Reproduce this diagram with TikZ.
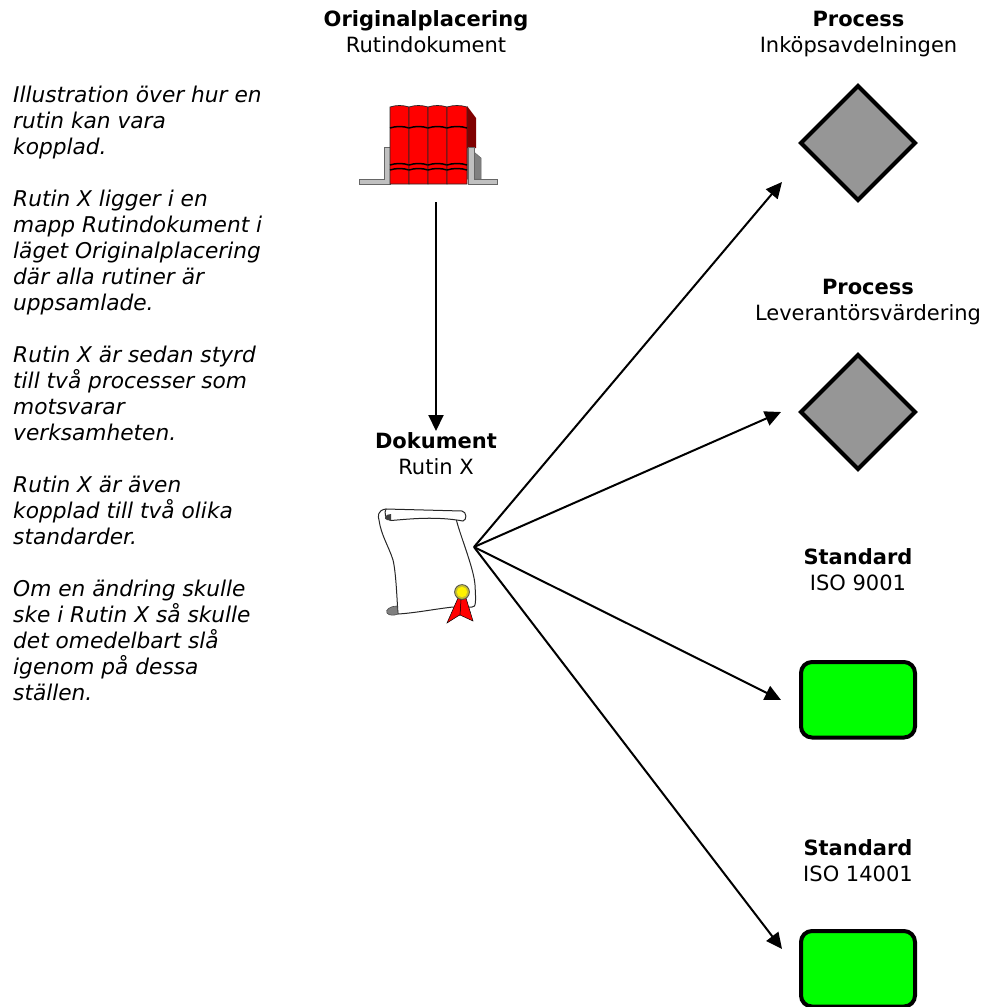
\documentclass[tikz,border=0pt]{standalone}
\usepackage{fontspec}
\setmainfont{DejaVu Sans}
\usetikzlibrary{arrows.meta}
\definecolor{bookred}{RGB}{255,0,0}
\definecolor{bookdark}{RGB}{128,0,0}
\definecolor{shelf}{RGB}{192,192,192}
\definecolor{shelfdark}{RGB}{128,128,128}
\definecolor{procgrey}{RGB}{150,150,150}
\definecolor{stdgreen}{RGB}{0,255,0}
\tikzset{
 x=1pt,y=-1pt,
 lbl/.style={align=center,font=\fontsize{21}{26}\selectfont,inner sep=0pt,anchor=north,execute at begin node=\rule{0pt}{20pt}},
 note/.style={align=left,font=\fontsize{21.7}{26}\selectfont\itshape,inner sep=0pt,anchor=north west,execute at begin node=\rule{0pt}{20pt}},
 proc/.style={draw=black,line width=4pt,fill=procgrey,miter limit=4},
 std/.style={draw=black,line width=4pt,fill=stdgreen,rounded corners=11pt},
 conn/.style={draw=black,line width=2pt,-{Triangle[length=16pt,width=15pt]}},
 spine/.style={draw=black!85,line width=.7pt,fill=bookred},
 band/.style={draw=black,line width=1.5pt},
 thin/.style={draw=black!85,line width=1pt},
}
\begin{document}
\begin{tikzpicture}
\useasboundingbox (0,0) rectangle (984,1007);
% notes
\node[note] (n1) at (13,86) {Illustration över hur en\\rutin kan vara\\kopplad.};
\node[note] (n2) at (13,190) {Rutin X ligger i en\\mapp Rutindokument i\\läget Originalplacering\\där alla rutiner är\\uppsamlade.};
\node[note] (n3) at (13,346) {Rutin X är sedan styrd\\till två processer som\\motsvarar\\verksamheten.};
\node[note] (n4) at (13,476) {Rutin X är även\\kopplad till två olika\\standarder.};
\node[note] (n5) at (13,580) {Om en ändring skulle\\ske i Rutin X så skulle\\det omedelbart slå\\igenom på dessa\\ställen.};
% labels
\node[lbl] (l1) at (426,10.5) {\textbf{Originalplacering}\\Rutindokument};
\node[lbl] (l2) at (436,432.5) {\textbf{Dokument}\\Rutin X};
\node[lbl] (l3) at (858.5,10.5) {\textbf{Process}\\Inköpsavdelningen};
\node[lbl] (l4) at (868,279) {\textbf{Process}\\Leverantörsvärdering};
\node[lbl] (l5) at (858,548) {\textbf{Standard}\\ISO 9001};
\node[lbl] (l6) at (858,839) {\textbf{Standard}\\ISO 14001};
% book icon: shelf
\fill[shelfdark,draw=black!60,line width=.5pt] (467,146) -- (481,158) -- (481,179) -- (467,179) -- cycle;
\fill[bookdark] (467,106) -- (476,118) -- (476,148) -- (467,148) -- cycle;
\draw[fill=shelf,draw=black!60,line width=.7pt] (384,147) -- (390,147) -- (390,184) -- (359,184) -- (359,179) -- (384,179) -- cycle;
\draw[fill=shelf,draw=black!60,line width=.7pt] (468,147) -- (474,147) -- (474,179) -- (497,179) -- (497,184) -- (468,184) -- cycle;
\foreach \xa/\xb in {390/409,409/428,428/447,447/467}{
 \path[spine] (\xa,184) -- (\xa,107) .. controls (\xa+6,105) and (\xb-6,105) .. (\xb,107) -- (\xb,184) -- cycle;
 \draw[band] (\xa,128) .. controls (\xa+6,126) and (\xb-6,126) .. (\xb,128);
 \draw[band] (\xa,165) .. controls (\xa+6,163) and (\xb-6,163) .. (\xb,165);
 \draw[band] (\xa,170) .. controls (\xa+6,168) and (\xb-6,168) .. (\xb,170);
}
\coordinate (bookout) at (436,202);
\coordinate (docin) at (436,431);
\coordinate (docout) at (474,547);
% scroll icon
\draw[thin,fill=white] (386,509) .. controls (377,510) and (378,517) .. (379,520) .. controls (381,535) and (389,547) .. (393,560) .. controls (396,572) and (397,600) .. (398,614) .. controls (415,613) and (435,609) .. (453,607) -- (472,607) .. controls (476,607) and (476,603) .. (475,585) .. controls (474,568) and (458,530) .. (456,518) -- (396,518) -- cycle;
\draw[thin,fill=white] (386,509) -- (462,511) .. controls (467,512) and (467,520) .. (463,521) .. controls (435,516) and (410,519) .. (391,520.5) .. controls (385,520) and (384,512) .. (386,509);
\fill[black!75] (391,514) .. controls (385,514) and (383,519) .. (387,520) -- (391,520.5) -- cycle;
\draw[black!70,line width=.6pt,fill=shelfdark] (397,606) .. controls (390,606) and (385,610) .. (387,613) .. controls (389,616) and (395,615.5) .. (398,614) -- cycle;
\draw[black,line width=.5pt,fill=bookred] (458,598) -- (447,623) -- (458,616) -- (460,615) -- (462,600) -- cycle;
\draw[black,line width=.5pt,fill=bookred] (461,600) -- (460,615) -- (473,621) -- (466,598) -- cycle;
\draw[fill=yellow!75!black,draw=black!70,line width=.8pt] (462,592) circle (7.4);
\fill[yellow] (462,592) circle (5.2);
% process and standard
\draw[proc] (858,86) -- (915,143) -- (858,200) -- (801,143) -- cycle;
\draw[proc] (858,355) -- (915,412) -- (858,469) -- (801,412) -- cycle;
\draw[std] (801,662) rectangle (915,737.5);
\draw[std] (801,931) rectangle (915,1006.5);
\coordinate (d1) at (782,182);
\coordinate (d2) at (781,412);
\coordinate (s1) at (781,700);
\coordinate (s2) at (782,949);
% connectors
\draw[conn] (bookout) -- (docin);
\draw[conn] (docout) -- (d1);
\draw[conn] (docout) -- (d2);
\draw[conn] (docout) -- (s1);
\draw[conn] (docout) -- (s2);
\end{tikzpicture}
\end{document}
